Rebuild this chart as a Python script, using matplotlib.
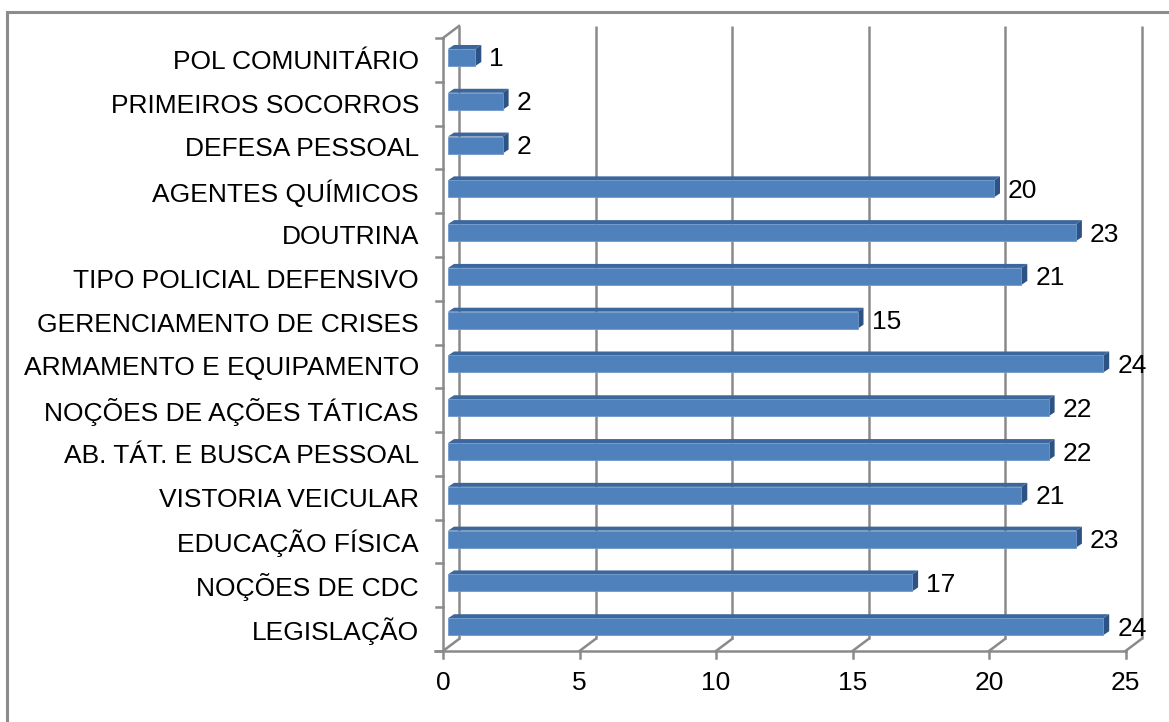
import matplotlib
matplotlib.use("Agg")
import matplotlib.pyplot as plt
from matplotlib.patches import Polygon, Rectangle

categories = ["LEGISLAÇÃO", "NOÇÕES DE CDC", "EDUCAÇÃO FÍSICA", "VISTORIA VEICULAR",
              "AB. TÁT. E BUSCA PESSOAL", "NOÇÕES DE AÇÕES TÁTICAS",
              "ARMAMENTO E EQUIPAMENTO", "GERENCIAMENTO DE CRISES",
              "TIPO POLICIAL DEFENSIVO", "DOUTRINA", "AGENTES QUÍMICOS",
              "DEFESA PESSOAL", "PRIMEIROS SOCORROS", "POL COMUNITÁRIO"]
values = [24, 17, 23, 21, 22, 22, 24, 15, 21, 23, 20, 2, 2, 1]
xticks = [0, 5, 10, 15, 20, 25]

plt.rcParams['font.family'] = ['Liberation Sans', 'DejaVu Sans']

W, H = 1169, 722
fig = plt.figure(figsize=(W / 100, H / 100), dpi=100)

# front plane in pixels
x0p, x1p = 443, 1125.5
ytop, ybot = 38, 651
ax = fig.add_axes([x0p / W, (H - ybot) / H, (x1p - x0p) / W, (ybot - ytop) / H])
n = len(categories)
ax.set_xlim(0, 25)
ax.set_ylim(-0.5, n - 0.5)
ax.axis('off')

sx = (x1p - x0p) / 25.0
sy = (ybot - ytop) / n

def px(dx):
    return dx / sx

def py(dy):
    return dy / sy

gc = '#8a8a8a'
glw = 1.8
FS = 19
# depth of wall
Dx, Dy = px(16), py(12)
ylo, yhi = -0.5, n - 0.5

# back wall gridlines + floor diagonals
for t in xticks:
    ax.plot([t + Dx, t + Dx], [ylo + Dy, yhi + Dy], color=gc, lw=glw, clip_on=False, zorder=1,
            solid_capstyle='butt')
    ax.plot([t, t + Dx], [ylo, ylo + Dy], color=gc, lw=glw, clip_on=False, zorder=1)
    # tick mark down
    ax.plot([t, t], [ylo, ylo - py(7)], color=gc, lw=glw, clip_on=False, zorder=1)
    ax.annotate(str(t), (t, ylo), xytext=(0, -20), textcoords='offset pixels',
                ha='center', va='top', fontsize=FS, color='black', annotation_clip=False)

# front floor line
ax.plot([0 - px(8), 25], [ylo, ylo], color=gc, lw=glw, clip_on=False, zorder=1)
# front vertical axis
ax.plot([0, 0], [ylo, yhi], color=gc, lw=glw, clip_on=False, zorder=1)
# top diagonal
ax.plot([0, Dx], [yhi, yhi + Dy], color=gc, lw=glw, clip_on=False, zorder=1)
# y ticks
for k in range(n + 1):
    yy = -0.5 + k
    ax.plot([0, -px(7)], [yy, yy], color=gc, lw=glw, clip_on=False, zorder=1)

# bars
bx0 = px(5)
by0 = py(2.4)
bh = py(17)
ddx, ddy = px(6), py(4)
front_c = '#4F81BD'
top_c = '#3C679C'
side_c = '#2D5384'
for i, (c, v) in enumerate(zip(categories, values)):
    yc = i + by0
    yb, yt = yc - bh / 2, yc + bh / 2
    xa, xb = bx0, bx0 + v
    ax.add_patch(Polygon([(xa, yt), (xb, yt), (xb + ddx, yt + ddy), (xa + ddx, yt + ddy)],
                         closed=True, facecolor=top_c, edgecolor='none', zorder=3, clip_on=False))
    ax.add_patch(Polygon([(xb, yb), (xb + ddx, yb + ddy), (xb + ddx, yt + ddy), (xb, yt)],
                         closed=True, facecolor=side_c, edgecolor='none', zorder=3, clip_on=False))
    ax.barh(yc, v, left=xa, height=bh, color=front_c, edgecolor='#6f98cc', linewidth=0.6,
            zorder=4, clip_on=False)
    ax.annotate(str(v), (xb + ddx, yc), xytext=(8, -2), textcoords='offset pixels',
                ha='left', va='center', fontsize=FS, color='black', annotation_clip=False)
    ax.annotate(c, (0, i), xytext=(-24, -2), textcoords='offset pixels',
                ha='right', va='center', fontsize=FS, color='black', annotation_clip=False)

# outer border
fig.add_artist(Rectangle((7 / W, -0.05), 1.2, (H - 12) / H + 0.05, transform=fig.transFigure,
                         fill=False, edgecolor='#8c8c8c', linewidth=2.2))

fig.savefig('out.png', dpi=100)
